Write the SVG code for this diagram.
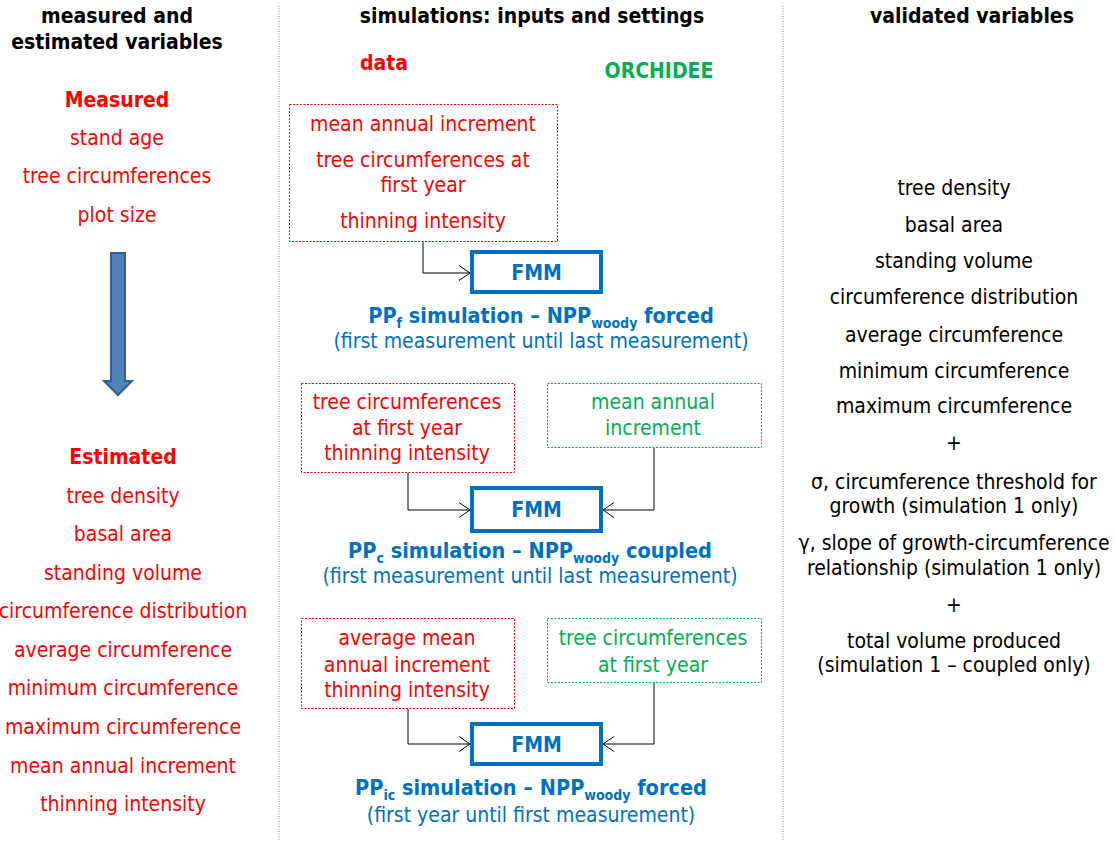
<svg xmlns="http://www.w3.org/2000/svg" width="1115" height="841" viewBox="0 0 1115 841">
<style>
text{font-family:"DejaVu Sans Condensed","Liberation Sans",sans-serif;font-size:21px;text-anchor:middle}
.b{font-weight:bold}
.t{font-size:21.5px}
.k{fill:#000}
.r{fill:#ff0000}
.g{fill:#00b050}
.u{fill:#0070c0}
.sub{font-size:14px}
.dr{fill:none;stroke:#ff0000;stroke-width:1;stroke-dasharray:2 1.5}
.dg{fill:none;stroke:#00b050;stroke-width:1;stroke-dasharray:2 1.5}
.fmm{fill:#fff;stroke:#0070c0;stroke-width:4}
.sep{stroke:#7f7f7f;stroke-width:1;stroke-dasharray:1 1.5}
.con{fill:none;stroke:#000;stroke-width:1}
</style>
<defs>
<marker id="ah" markerUnits="userSpaceOnUse" markerWidth="14" markerHeight="18" refX="12" refY="9" orient="auto">
<path d="M1,1.5 L12,9 L1,16.5" fill="none" stroke="#000" stroke-width="1"/>
</marker>
</defs>
<rect width="1115" height="841" fill="#fff"/>
<g id="separators">
<line class="sep" x1="279" y1="6" x2="279" y2="841"/>
<line class="sep" x1="783" y1="6" x2="783" y2="841"/>
</g>
<g id="col-left">
<text class="b k" x="117" y="23">measured and</text>
<text class="b k" x="117" y="49">estimated variables</text>
<text class="b r" x="117" y="107">Measured</text>
<text class="r" x="117" y="145">stand age</text>
<text class="r" x="117" y="183">tree circumferences</text>
<text class="r" x="117" y="222">plot size</text>
<text class="b r" x="123" y="464">Estimated</text>
<text class="r" x="123" y="503">tree density</text>
<text class="r" x="123" y="541">basal area</text>
<text class="r" x="123" y="580">standing volume</text>
<text class="r" x="123" y="618">circumference distribution</text>
<text class="r" x="123" y="657">average circumference</text>
<text class="r" x="123" y="695">minimum circumference</text>
<text class="r" x="123" y="734">maximum circumference</text>
<text class="r" x="123" y="773">mean annual increment</text>
<text class="r" x="123" y="811">thinning intensity</text>
</g>
<g id="big-arrow">
<path d="M111,253 H125 V381 H132 L118,395 L104,381 H111 Z" fill="#4f81bd" stroke="#385d8a" stroke-width="2"/>
</g>
<g id="col-middle-headers">
<text class="b k" x="532" y="23">simulations: inputs and settings</text>
<text class="b r" x="384" y="70">data</text>
<text class="b g" x="659" y="78">ORCHIDEE</text>
</g>
<g id="data1">
<rect class="dr" x="289.5" y="104.5" width="268" height="137"/>
<text class="r" x="423" y="131">mean annual increment</text>
<text class="r" x="423" y="167">tree circumferences at</text>
<text class="r" x="423" y="192">first year</text>
<text class="r" x="423" y="228">thinning intensity</text>
</g>
<g id="fmm1">
<rect class="fmm" x="472" y="252" width="129" height="40"/>
<text class="b u" x="536.5" y="280">FMM</text>
</g>
<g id="label1">
<text class="b u t" x="541" y="323">PP<tspan class="sub" dy="5">f</tspan><tspan dy="-5"> simulation – NPP</tspan><tspan class="sub" dy="5">woody</tspan><tspan dy="-5">  forced</tspan></text>
<text class="u" x="541" y="348">(first measurement until last measurement)</text>
</g>
<g id="data2">
<rect class="dr" x="301.5" y="383.5" width="213" height="89"/>
<text class="r" x="407" y="409">tree circumferences</text>
<text class="r" x="407" y="435">at first year</text>
<text class="r" x="407" y="460">thinning intensity</text>
</g>
<g id="orchidee2">
<rect class="dg" x="547.5" y="383.5" width="214" height="64"/>
<text class="g" x="653" y="409">mean annual</text>
<text class="g" x="653" y="435">increment</text>
</g>
<g id="fmm2">
<rect class="fmm" x="472" y="488" width="129" height="43"/>
<text class="b u" x="536.5" y="517">FMM</text>
</g>
<g id="label2">
<text class="b u t" x="530" y="558">PP<tspan class="sub" dy="5">c</tspan><tspan dy="-5"> simulation – NPP</tspan><tspan class="sub" dy="5">woody</tspan><tspan dy="-5">  coupled</tspan></text>
<text class="u" x="530" y="583">(first measurement until last measurement)</text>
</g>
<g id="data3">
<rect class="dr" x="301.5" y="618.5" width="213" height="90"/>
<text class="r" x="407" y="645">average mean</text>
<text class="r" x="407" y="672">annual increment</text>
<text class="r" x="407" y="697">thinning intensity</text>
</g>
<g id="orchidee3">
<rect class="dg" x="547.5" y="618.5" width="214" height="64"/>
<text class="g" x="653" y="645">tree circumferences</text>
<text class="g" x="653" y="672">at first year</text>
</g>
<g id="fmm3">
<rect class="fmm" x="472" y="724" width="129" height="40"/>
<text class="b u" x="536.5" y="752">FMM</text>
</g>
<g id="label3">
<text class="b u t" x="531" y="795">PP<tspan class="sub" dy="5">ic</tspan><tspan dy="-5"> simulation – NPP</tspan><tspan class="sub" dy="5">woody</tspan><tspan dy="-5"> forced</tspan></text>
<text class="u" x="531" y="822">(first year until first measurement)</text>
</g>
<g id="col-right">
<text class="b k" x="972" y="23">validated variables</text>
<text class="k" x="954" y="195">tree density</text>
<text class="k" x="954" y="232">basal area</text>
<text class="k" x="954" y="268">standing volume</text>
<text class="k" x="954" y="304">circumference distribution</text>
<text class="k" x="954" y="342">average circumference</text>
<text class="k" x="954" y="378">minimum circumference</text>
<text class="k" x="954" y="413">maximum circumference</text>
<text class="k" x="954" y="450">+</text>
<text class="k" x="954" y="489">σ, circumference threshold for</text>
<text class="k" x="954" y="513">growth (simulation 1 only)</text>
<text class="k" x="954" y="550">γ, slope of growth-circumference</text>
<text class="k" x="954" y="575">relationship (simulation 1 only)</text>
<text class="k" x="954" y="612">+</text>
<text class="k" x="954" y="648">total volume produced</text>
<text class="k" x="954" y="672">(simulation 1 – coupled only)</text>
</g>
<g id="connectors">
<path class="con" d="M423,242 V273 H470" marker-end="url(#ah)"/>
<path class="con" d="M408,473 V510 H470" marker-end="url(#ah)"/>
<path class="con" d="M654,448 V510 H603" marker-end="url(#ah)"/>
<path class="con" d="M408,709 V744 H470" marker-end="url(#ah)"/>
<path class="con" d="M654,683 V744 H603" marker-end="url(#ah)"/>
</g>
</svg>
